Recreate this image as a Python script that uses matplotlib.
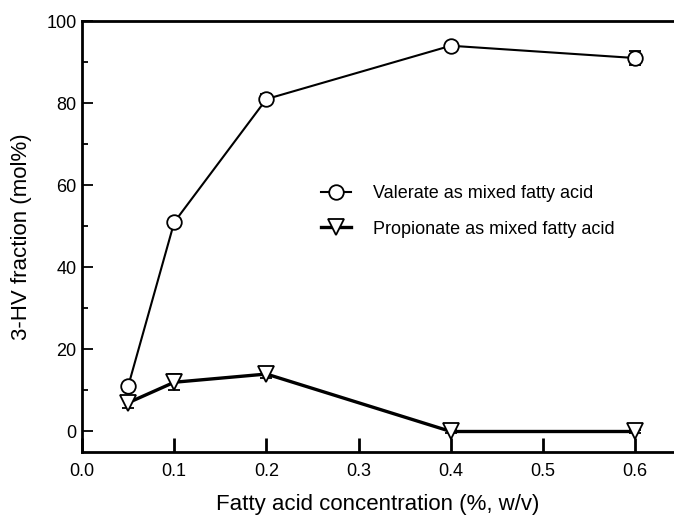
import matplotlib
matplotlib.use('Agg')
import matplotlib.pyplot as plt
from matplotlib.ticker import MultipleLocator

plt.rcParams['font.family'] = ['Liberation Sans', 'DejaVu Sans']

# data
conc = [0.05, 0.1, 0.2, 0.4, 0.6]
valerate = [11, 51, 81, 94, 91]
valerate_err = [0.5, 0.5, 1.2, 0.5, 1.8]
propionate = [7, 12, 14, 0, 0]
propionate_err = [1.2, 2.0, 1.0, 0.3, 0.3]

fig = plt.figure(figsize=(6.74, 5.15), dpi=100)
ax = fig.add_axes([0.1217, 0.1223, 0.8783, 0.8367])

ax.errorbar(conc, valerate, yerr=valerate_err, color='black', lw=1.5,
            marker='o', ms=10.5, mfc='white', mec='black', mew=1.3,
            capsize=4.5, elinewidth=1.3, capthick=1.3,
            label='Valerate as mixed fatty acid')
ax.errorbar(conc, propionate, yerr=propionate_err, color='black', lw=2.4,
            marker='v', ms=11, mfc='white', mec='black', mew=1.3,
            capsize=4.5, elinewidth=1.3, capthick=1.3,
            label='Propionate as mixed fatty acid')

ax.set_xlim(0, 0.642)
ax.set_ylim(-5, 100)
ax.xaxis.set_major_locator(MultipleLocator(0.1))
ax.yaxis.set_major_locator(MultipleLocator(20))
ax.yaxis.set_minor_locator(MultipleLocator(10))
ax.xaxis.set_major_formatter(plt.FuncFormatter(lambda v, p: f'{v:.1f}'))

ax.spines['right'].set_visible(False)
for s in ['left', 'bottom', 'top']:
    ax.spines[s].set_linewidth(2.0)

ax.tick_params(axis='x', which='major', direction='in', length=10, width=2,
               labelsize=13, pad=8)
ax.tick_params(axis='y', which='major', direction='in', length=8, width=1.3,
               labelsize=13, pad=4)
ax.tick_params(axis='y', which='minor', direction='in', length=4, width=1.3)
ax.tick_params(top=False, right=False)

ax.set_xlabel('Fatty acid concentration (%, w/v)', fontsize=16, labelpad=10)
ax.set_ylabel('3-HV fraction (mol%)', fontsize=16, labelpad=10)

handles, labels = ax.get_legend_handles_labels()
handles = [h[0] for h in handles]
ax.legend(handles, labels, loc='upper left', bbox_to_anchor=(0.403, 0.62),
          frameon=False, fontsize=13, handlelength=1.7, labelspacing=1.05,
          handletextpad=1.2, borderpad=0, borderaxespad=0)

fig.savefig('out.png', dpi=100)
